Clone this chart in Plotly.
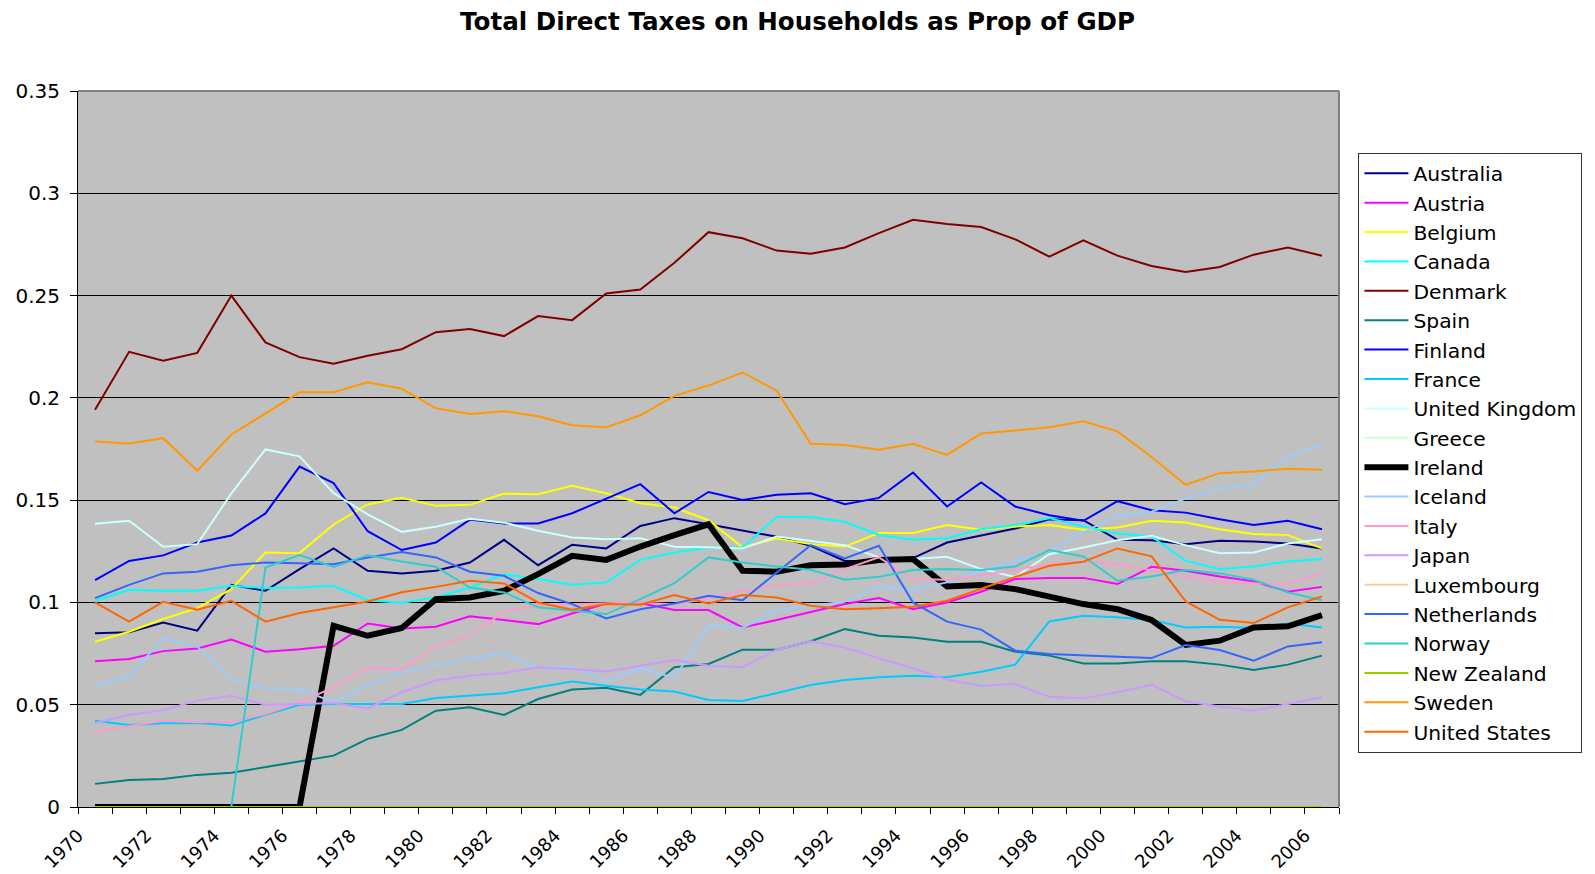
import plotly.graph_objects as go

years = list(range(1970, 2007))

countries = ["Australia", "Austria", "Belgium", "Canada", "Denmark", "Spain", "Finland",
             "France", "United Kingdom", "Greece", "Ireland", "Iceland", "Italy", "Japan",
             "Luxembourg", "Netherlands", "Norway", "New Zealand", "Sweden", "United States"]

australia = [0.0849,0.0854,0.0902,0.0862,0.1086,0.1057,0.1163,0.1264,0.1155,0.1142,0.1155,0.1195,0.1306,0.1182,0.1282,0.1264,0.1374,0.1412,0.1382,0.1350,0.1321,0.1277,0.1203,0.1203,0.1217,0.1293,0.1326,0.1361,0.1407,0.1402,0.1306,0.1304,0.1285,0.1301,0.1298,0.1288,0.1264]
austria = [0.0712,0.0723,0.0762,0.0775,0.0819,0.0759,0.0771,0.0788,0.0897,0.0873,0.0881,0.0932,0.0914,0.0894,0.0946,0.0995,0.0997,0.0963,0.0963,0.0878,0.0914,0.0954,0.0992,0.1021,0.0967,0.1000,0.1052,0.1114,0.1120,0.1120,0.1090,0.1174,0.1155,0.1127,0.1103,0.1052,0.1076]
belgium = [0.0808,0.0857,0.0919,0.0972,0.1065,0.1244,0.1241,0.1381,0.1479,0.1511,0.1472,0.1477,0.1532,0.1529,0.1570,0.1534,0.1485,0.1464,0.1402,0.1269,0.1313,0.1285,0.1273,0.1339,0.1339,0.1378,0.1355,0.1371,0.1378,0.1355,0.1366,0.1399,0.1391,0.1358,0.1334,0.1329,0.1264]
canada = [0.1008,0.1062,0.1057,0.1057,0.1081,0.1070,0.1073,0.1081,0.1011,0.0998,0.1024,0.1073,0.1138,0.1114,0.1086,0.1098,0.1208,0.1244,0.1269,0.1269,0.1418,0.1418,0.1394,0.1330,0.1306,0.1314,0.1358,0.1378,0.1412,0.1371,0.1337,0.1322,0.1203,0.1163,0.1176,0.1200,0.1212]
denmark = [0.1942,0.2225,0.2181,0.2220,0.2500,0.2271,0.2199,0.2167,0.2206,0.2238,0.2321,0.2336,0.2302,0.2400,0.2380,0.2510,0.2530,0.2660,0.2810,0.2780,0.2720,0.2705,0.2735,0.2805,0.2870,0.2850,0.2835,0.2775,0.2690,0.2770,0.2695,0.2645,0.2615,0.2640,0.2700,0.2735,0.2695]
spain = [0.0113,0.0132,0.0137,0.0157,0.0167,0.0194,0.0222,0.0251,0.0333,0.0377,0.0471,0.0487,0.0450,0.0528,0.0574,0.0583,0.0548,0.0683,0.0699,0.0769,0.0769,0.0810,0.0870,0.0837,0.0829,0.0808,0.0808,0.0759,0.0740,0.0702,0.0702,0.0712,0.0712,0.0696,0.0670,0.0696,0.0740]
finland = [0.1109,0.1203,0.1230,0.1293,0.1327,0.1435,0.1664,0.1583,0.1348,0.1256,0.1293,0.1405,0.1386,0.1386,0.1436,0.1508,0.1578,0.1436,0.1540,0.1501,0.1526,0.1534,0.1480,0.1511,0.1635,0.1469,0.1586,0.1469,0.1426,0.1399,0.1495,0.1451,0.1439,0.1407,0.1378,0.1399,0.1358]
france = [0.0422,0.0401,0.0409,0.0411,0.0398,0.0451,0.0500,0.0504,0.0504,0.0504,0.0533,0.0544,0.0556,0.0585,0.0614,0.0593,0.0574,0.0565,0.0523,0.0518,0.0556,0.0596,0.0621,0.0634,0.0642,0.0634,0.0661,0.0696,0.0907,0.0935,0.0927,0.0914,0.0878,0.0881,0.0875,0.0897,0.0878]
united_kingdom = [0.1384,0.1399,0.1272,0.1285,0.1533,0.1748,0.1714,0.1534,0.1430,0.1345,0.1370,0.1409,0.1390,0.1350,0.1317,0.1309,0.1314,0.1272,0.1270,0.1264,0.1322,0.1301,0.1280,0.1220,0.1212,0.1223,0.1163,0.1125,0.1236,0.1269,0.1304,0.1326,0.1280,0.1241,0.1244,0.1288,0.1309]
greece = [0.0] * 37
ireland = [0,0,0,0,0,0,0,0.0886,0.0837,0.0875,0.1016,0.1024,0.1057,0.1138,0.1228,0.1208,0.1273,0.1329,0.1382,0.1155,0.1150,0.1182,0.1186,0.1207,0.1212,0.1078,0.1085,0.1065,0.1029,0.0992,0.0967,0.0914,0.0792,0.0813,0.0878,0.0883,0.0938]
iceland = [0.0593,0.0639,0.0826,0.0785,0.0621,0.0580,0.0577,0.0512,0.0593,0.0658,0.0691,0.0728,0.0751,0.0683,0.0686,0.0613,0.0679,0.0631,0.0889,0.0875,0.0964,0.0984,0.1003,0.1076,0.1062,0.1098,0.1155,0.1203,0.1252,0.1342,0.1426,0.1443,0.1508,0.1553,0.1578,0.1716,0.1768]
italy = [0.0368,0.0395,0.0422,0.0414,0.0417,0.0455,0.0512,0.0585,0.0679,0.0674,0.0785,0.0837,0.0954,0.0987,0.0992,0.0995,0.1000,0.0990,0.1020,0.1057,0.1085,0.1093,0.1163,0.1220,0.1114,0.1111,0.1133,0.1160,0.1187,0.1199,0.1187,0.1158,0.1125,0.1101,0.1093,0.1093,0.1142]
japan = [0.0411,0.0450,0.0474,0.0520,0.0544,0.0500,0.0504,0.0508,0.0482,0.0561,0.0618,0.0642,0.0655,0.0683,0.0674,0.0663,0.0691,0.0718,0.0691,0.0683,0.0769,0.0810,0.0780,0.0727,0.0678,0.0622,0.0593,0.0601,0.0539,0.0531,0.0561,0.0598,0.0517,0.0491,0.0471,0.0504,0.0536]
luxembourg = [0.0] * 37
netherlands = [0.1021,0.1086,0.1142,0.1150,0.1182,0.1195,0.1192,0.1187,0.1220,0.1247,0.1220,0.1150,0.1130,0.1046,0.0992,0.0922,0.0967,0.0995,0.1033,0.1011,0.1146,0.1280,0.1215,0.1277,0.1000,0.0906,0.0867,0.0764,0.0748,0.0740,0.0735,0.0728,0.0792,0.0767,0.0715,0.0785,0.0805]
norway = [0,0,0,0,0,0.1171,0.1231,0.1174,0.1231,0.1200,0.1174,0.1073,0.1049,0.0976,0.0959,0.0943,0.1016,0.1094,0.1220,0.1195,0.1176,0.1160,0.1111,0.1125,0.1158,0.1163,0.1158,0.1176,0.1256,0.1225,0.1106,0.1127,0.1158,0.1142,0.1111,0.1049,0.1011]
new_zealand = [0.0] * 37
sweden = [0.1787,0.1777,0.1803,0.1644,0.1821,0.1924,0.2027,0.2027,0.2076,0.2045,0.1949,0.1921,0.1935,0.1910,0.1866,0.1856,0.1915,0.2010,0.2060,0.2124,0.2035,0.1776,0.1770,0.1746,0.1776,0.1721,0.1826,0.1840,0.1856,0.1886,0.1836,0.1711,0.1575,0.1632,0.1640,0.1654,0.1648]
united_states = [0.1000,0.0906,0.1003,0.0964,0.1008,0.0906,0.0948,0.0976,0.1005,0.1050,0.1076,0.1106,0.1093,0.1000,0.0964,0.0992,0.0989,0.1036,0.0995,0.1036,0.1024,0.0984,0.0967,0.0972,0.0979,0.1008,0.1068,0.1125,0.1179,0.1199,0.1264,0.1225,0.1005,0.0915,0.0899,0.0976,0.1029]

series = [australia, austria, belgium, canada, denmark, spain, finland, france, united_kingdom,
          greece, ireland, iceland, italy, japan, luxembourg, netherlands, norway, new_zealand,
          sweden, united_states]

colors = ["#000080", "#FF00FF", "#FFFF00", "#00FFFF", "#800000", "#008080", "#0000FF",
          "#00CCFF", "#CCFFFF", "#CCFFCC", "#000000", "#99CCFF", "#FF99CC", "#CC99FF",
          "#FFCC99", "#3366FF", "#33CCCC", "#99CC00", "#FF9900", "#FF6600"]

y_ticks = [0, 0.05, 0.1, 0.15, 0.2, 0.25, 0.3, 0.35]
y_labels = ["0", "0.05", "0.1", "0.15", "0.2", "0.25", "0.3", "0.35"]

FONT = "DejaVu Sans"

fig = go.Figure()
for name, vals, col in zip(countries, series, colors):
    fig.add_trace(go.Scatter(
        x=years, y=vals, mode="lines", name=name,
        line=dict(color=col, width=6 if name == "Ireland" else 2),
    ))

# category boundaries for tick marks, labels on every second year
x_tickvals = [y - 0.5 for y in years] + [years[-1] + 0.5]
x_ticktext = [str(y) if (y - years[0]) % 2 == 0 else "" for y in years] + [""]

# the page body has an 8px margin, so the figure is drawn 8px smaller
fig.update_layout(
    width=1587, height=866,
    margin=dict(l=70, r=256, t=83, b=67, autoexpand=False),
    paper_bgcolor="white",
    plot_bgcolor="#C0C0C0",
    font=dict(family=FONT, color="black"),
    title=dict(text="<b>Total Direct Taxes on Households as Prop of GDP</b>",
               font=dict(family=FONT, size=24.6, color="black"),
               x=0.4975, xanchor="center", xref="container",
               y=0.985, yanchor="middle", yref="container"),
    showlegend=True,
    legend=dict(x=1.0154, y=0.914, xanchor="left", yanchor="top",
                bgcolor="white", bordercolor="#333333", borderwidth=1,
                font=dict(family=FONT, size=20.3, color="black"),
                itemwidth=44, traceorder="normal"),
    xaxis=dict(range=[years[0] - 0.5, years[-1] + 0.5], tickmode="array",
               tickvals=x_tickvals, ticktext=x_ticktext, tickangle=-45,
               tickfont=dict(family=FONT, size=18, color="black"),
               ticks="outside", ticklen=6, tickcolor="black", tickwidth=1,
               showgrid=False, zeroline=False, automargin=False,
               showline=True, linecolor="black", linewidth=1,
               ticklabelstandoff=4),
    yaxis=dict(range=[0, 0.35], tickmode="array", tickvals=y_ticks, ticktext=y_labels,
               tickfont=dict(family=FONT, size=20, color="black"),
               ticks="outside", ticklen=7, tickcolor="black", tickwidth=1,
               showgrid=True, gridcolor="black", gridwidth=1, zeroline=False,
               showline=True, linecolor="black", linewidth=1, automargin=False,
               ticklabelstandoff=6),
    shapes=[
        dict(type="line", xref="paper", yref="paper", x0=0, x1=1, y0=1, y1=1,
             line=dict(color="#808080", width=2), layer="above"),
        dict(type="line", xref="paper", yref="paper", x0=1, x1=1, y0=0, y1=1,
             line=dict(color="#808080", width=2), layer="above"),
    ],
)

fig.write_html("out.html")
